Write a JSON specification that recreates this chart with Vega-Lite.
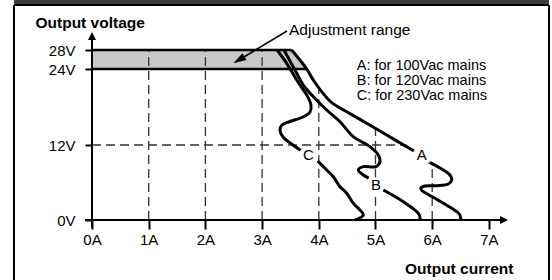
{
  "$schema": "https://vega.github.io/schema/vega-lite/v6.json",
  "width": 535,
  "height": 275,
  "autosize": {"type": "none"},
  "padding": {"left": 14, "top": 5, "right": 3, "bottom": 0},
  "background": "white",
  "config": {
    "view": {"stroke": null},
    "font": "Liberation Sans",
    "axis": {"labelColor": "black", "titleColor": "black", "tickColor": "black"}
  },
  "datasets": {
    "header": [{"a": -1.3757, "a2": 8.06, "v": 37.47, "v2": 40}],
    "frame": [
      {"a": -1.3757, "v": -9.48, "a2": -1.3757, "v2": 37.47},
      {"a": 8.06, "v": -9.48, "a2": 8.06, "v2": 37.47},
      {"a": -1.3757, "v": 37.47, "a2": 8.06, "v2": 37.47}
    ],
    "band": [
      {"a": 0, "v": 28, "v2": 24},
      {"a": 3.522, "v": 28, "v2": 24},
      {"a": 3.787, "v": 24, "v2": 24}
    ],
    "grid": [
      {"a": 1, "v": 0, "a2": 1, "v2": 28},
      {"a": 2, "v": 0, "a2": 2, "v2": 28},
      {"a": 3, "v": 0, "a2": 3, "v2": 28},
      {"a": 4, "v": 0, "a2": 4, "v2": 21.0},
      {"a": 5, "v": 0, "a2": 5, "v2": 14.6},
      {"a": 6, "v": 0, "a2": 6, "v2": 8.9},
      {"a": 0, "v": 12, "a2": 5.55, "v2": 12}
    ],
    "bandlines": [
      {"a": 0, "v": 28, "a2": 3.522, "v2": 28},
      {"a": 0, "v": 24, "a2": 3.79, "v2": 24}
    ],
    "axislines": [
      {"a": 0, "v": -1.2, "a2": 0, "v2": 30.5},
      {"a": -0.123, "v": 0, "a2": 7.2, "v2": 0}
    ],
    "yarrow": [{"a": 0, "v": 30.95}],
    "xarrow": [{"a": 7.266, "v": 0}],
    "pointer": [{"a": 3.439, "v": 32.0, "a2": 2.591, "v2": 25.89}],
    "pointerhead": [{"a": 2.591, "v": 25.89}],
    "curves": [
      {"seg": "A1", "a": 3.522, "v": 28},
      {"seg": "A1", "a": 3.787, "v": 24},
      {"seg": "A1", "a": 3.903, "v": 22.26},
      {"seg": "A1", "a": 4.051, "v": 20.42},
      {"seg": "A1", "a": 4.228, "v": 18.68},
      {"seg": "A1", "a": 4.492, "v": 17.26},
      {"seg": "A1", "a": 4.845, "v": 15.43},
      {"seg": "A1", "a": 5.198, "v": 13.58},
      {"seg": "A1", "a": 5.55, "v": 11.73},
      {"seg": "A1", "a": 5.679, "v": 11.04},
      {"seg": "A2", "a": 5.931, "v": 9.33},
      {"seg": "A2", "a": 6.196, "v": 8.0},
      {"seg": "A2", "a": 6.314, "v": 7.2},
      {"seg": "A2", "a": 6.344, "v": 6.4},
      {"seg": "A2", "a": 6.284, "v": 5.76},
      {"seg": "A2", "a": 6.079, "v": 5.49},
      {"seg": "A2", "a": 5.873, "v": 5.44},
      {"seg": "A2", "a": 5.797, "v": 5.07},
      {"seg": "A2", "a": 5.843, "v": 4.53},
      {"seg": "A2", "a": 6.019, "v": 3.63},
      {"seg": "A2", "a": 6.196, "v": 2.67},
      {"seg": "A2", "a": 6.372, "v": 1.71},
      {"seg": "A2", "a": 6.478, "v": 0.96},
      {"seg": "A2", "a": 6.503, "v": 0.3},
      {"seg": "A2", "a": 6.503, "v": 0},
      {"seg": "B1", "a": 3.386, "v": 28},
      {"seg": "B1", "a": 3.61, "v": 23.32},
      {"seg": "B1", "a": 3.727, "v": 21.47},
      {"seg": "B1", "a": 3.903, "v": 19.63},
      {"seg": "B1", "a": 4.139, "v": 17.53},
      {"seg": "B1", "a": 4.374, "v": 15.68},
      {"seg": "B1", "a": 4.608, "v": 13.31},
      {"seg": "B1", "a": 4.903, "v": 11.73},
      {"seg": "B1", "a": 5.049, "v": 10.4},
      {"seg": "B1", "a": 5.079, "v": 9.33},
      {"seg": "B1", "a": 5.009, "v": 8.53},
      {"seg": "B1", "a": 4.785, "v": 8.53},
      {"seg": "B1", "a": 4.697, "v": 8.0},
      {"seg": "B1", "a": 4.785, "v": 7.2},
      {"seg": "B1", "a": 4.88, "v": 6.7},
      {"seg": "B2", "a": 5.138, "v": 4.8},
      {"seg": "B2", "a": 5.49, "v": 2.93},
      {"seg": "B2", "a": 5.755, "v": 1.07},
      {"seg": "B2", "a": 5.785, "v": 0.4},
      {"seg": "B2", "a": 5.785, "v": 0},
      {"seg": "C1", "a": 3.263, "v": 28},
      {"seg": "C1", "a": 3.434, "v": 25.2},
      {"seg": "C1", "a": 3.61, "v": 22.26},
      {"seg": "C1", "a": 3.787, "v": 19.89},
      {"seg": "C1", "a": 3.862, "v": 18.32},
      {"seg": "C1", "a": 3.845, "v": 17.21},
      {"seg": "C1", "a": 3.721, "v": 16.42},
      {"seg": "C1", "a": 3.492, "v": 15.71},
      {"seg": "C1", "a": 3.351, "v": 15.16},
      {"seg": "C1", "a": 3.316, "v": 14.37},
      {"seg": "C1", "a": 3.369, "v": 13.26},
      {"seg": "C1", "a": 3.545, "v": 12.0},
      {"seg": "C1", "a": 3.68, "v": 11.15},
      {"seg": "C2", "a": 3.98, "v": 9.44},
      {"seg": "C2", "a": 4.139, "v": 8.0},
      {"seg": "C2", "a": 4.256, "v": 6.93},
      {"seg": "C2", "a": 4.374, "v": 5.33},
      {"seg": "C2", "a": 4.492, "v": 4.27},
      {"seg": "C2", "a": 4.608, "v": 2.67},
      {"seg": "C2", "a": 4.697, "v": 1.87},
      {"seg": "C2", "a": 4.785, "v": 0.8},
      {"seg": "C2", "a": 4.638, "v": 0}
    ],
    "curvelabels": [
      {"a": 5.815, "v": 10.4, "t": "A"},
      {"a": 5.009, "v": 5.6, "t": "B"},
      {"a": 3.815, "v": 10.4, "t": "C"}
    ],
    "adjust": [{"a": 3.474, "v": 31.16, "t": "Adjustment range"}],
    "legend": [{"a": 4.669, "v": 23.84, "t": "A: for 100Vac mains\nB: for 120Vac mains\nC: for 230Vac mains"}]
  },
  "encoding": {
    "x": {
      "field": "a",
      "type": "quantitative",
      "scale": {"domain": [-1.3757, 8.06], "nice": false, "zero": false},
      "axis": {
        "orient": "bottom",
        "offset": -60,
        "values": [0, 1, 2, 3, 4, 5, 6, 7],
        "labelExpr": "datum.value + 'A'",
        "domain": false,
        "grid": false,
        "tickSize": 9,
        "tickWidth": 2,
        "labelFontSize": 15,
        "labelPadding": 3,
        "labelFlush": false,
        "labelOverlap": false,
        "title": "Output current",
        "titleFontSize": 15.5,
        "titleFontWeight": "bold",
        "titleAlign": "right",
        "titleX": 499,
        "titleY": 53,
        "titleBaseline": "alphabetic"
      }
    },
    "y": {
      "field": "v",
      "type": "quantitative",
      "scale": {
        "domain": [-9.48, 0, 12, 24, 28, 37.47],
        "range": [275, 215, 140, 64, 45, 0],
        "nice": false,
        "zero": false
      },
      "axis": {
        "orient": "left",
        "offset": -78,
        "values": [0, 12, 24, 28],
        "labelExpr": "datum.value + 'V'",
        "domain": false,
        "grid": false,
        "tickSize": 7,
        "tickWidth": 2,
        "labelFontSize": 15,
        "labelPadding": 10,
        "labelOverlap": false,
        "title": "Output voltage",
        "titleAngle": 0,
        "titleAlign": "left",
        "titleX": -57,
        "titleY": 22,
        "titleBaseline": "alphabetic",
        "titleFontSize": 15.5,
        "titleFontWeight": "bold"
      }
    }
  },
  "layer": [
    {
      "data": {"name": "header"},
      "mark": {"type": "rect", "color": "#3f3f3f"},
      "encoding": {"x2": {"field": "a2"}, "y2": {"field": "v2"}}
    },
    {
      "data": {"name": "frame"},
      "mark": {"type": "rule", "color": "black", "strokeWidth": 2},
      "encoding": {"x2": {"field": "a2"}, "y2": {"field": "v2"}}
    },
    {
      "data": {"name": "band"},
      "mark": {"type": "area", "color": "#c8c8c8", "opacity": 1},
      "encoding": {"y2": {"field": "v2"}}
    },
    {
      "data": {"name": "grid"},
      "mark": {"type": "rule", "color": "#333333", "strokeWidth": 1.3, "strokeDash": [9, 5]},
      "encoding": {"x2": {"field": "a2"}, "y2": {"field": "v2"}}
    },
    {
      "data": {"name": "bandlines"},
      "mark": {"type": "rule", "color": "black", "strokeWidth": 2.6},
      "encoding": {"x2": {"field": "a2"}, "y2": {"field": "v2"}}
    },
    {
      "data": {"name": "curves"},
      "mark": {"type": "line", "color": "black", "strokeWidth": 3, "interpolate": "catmull-rom", "strokeJoin": "round"},
      "encoding": {"detail": {"field": "seg"}, "order": {"value": null}}
    },
    {
      "data": {"name": "axislines"},
      "mark": {"type": "rule", "color": "black", "strokeWidth": 2},
      "encoding": {"x2": {"field": "a2"}, "y2": {"field": "v2"}}
    },
    {
      "data": {"name": "yarrow"},
      "mark": {"type": "point", "shape": "M0,-1L1,1L-1,1Z", "size": 64, "filled": true, "color": "black", "opacity": 1, "angle": 0}
    },
    {
      "data": {"name": "xarrow"},
      "mark": {"type": "point", "shape": "M0,-1L1,1L-1,1Z", "size": 64, "filled": true, "color": "black", "opacity": 1, "angle": 90}
    },
    {
      "data": {"name": "pointer"},
      "mark": {"type": "rule", "color": "black", "strokeWidth": 1.6},
      "encoding": {"x2": {"field": "a2"}, "y2": {"field": "v2"}}
    },
    {
      "data": {"name": "pointerhead"},
      "mark": {"type": "point", "shape": "M0,-1L0.6,1L-0.6,1Z", "size": 169, "filled": true, "color": "black", "opacity": 1, "angle": 239.3}
    },
    {
      "data": {"name": "curvelabels"},
      "mark": {"type": "text", "fontSize": 15, "align": "center", "baseline": "middle", "color": "white", "stroke": "white", "strokeWidth": 5},
      "encoding": {"text": {"field": "t"}}
    },
    {
      "data": {"name": "curvelabels"},
      "mark": {"type": "text", "fontSize": 15, "align": "center", "baseline": "middle", "color": "black"},
      "encoding": {"text": {"field": "t"}}
    },
    {
      "data": {"name": "adjust"},
      "mark": {"type": "text", "fontSize": 15.5, "align": "left", "baseline": "alphabetic", "color": "black"},
      "encoding": {"text": {"field": "t"}}
    },
    {
      "data": {"name": "legend"},
      "mark": {"type": "text", "fontSize": 14.5, "align": "left", "baseline": "alphabetic", "color": "black", "lineBreak": "\n", "lineHeight": 15},
      "encoding": {"text": {"field": "t"}}
    }
  ]
}
